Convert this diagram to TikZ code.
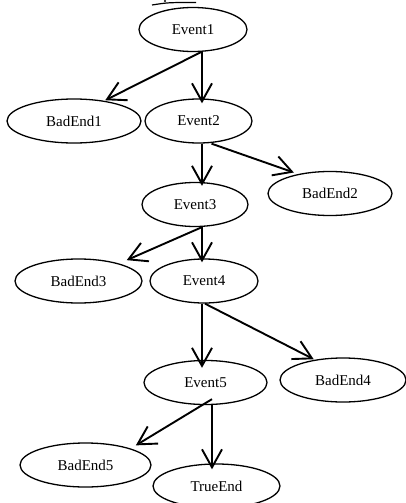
\documentclass[tikz,border=0pt]{standalone}
\usepackage{fontspec}
\setmainfont{Liberation Serif}
\usetikzlibrary{shapes.geometric,arrows.meta}
\pgfdeclarearrow{
  name = OpenVee,
  parameters = {\the\pgfarrowlength,\the\pgfarrowwidth},
  setup code = {
    \pgfarrowssettipend{0pt}
    \pgfarrowssetlineend{-0.6\pgflinewidth}
    \pgfarrowssetbackend{-\pgfarrowlength}
    \pgfarrowssavethe\pgfarrowlength
    \pgfarrowssavethe\pgfarrowwidth
  },
  drawing code = {
    \pgfsetdash{}{0pt}
    \pgfsetmiterjoin
    \pgfsetbuttcap
    \pgfpathmoveto{\pgfqpoint{-\pgfarrowlength}{0.5\pgfarrowwidth}}
    \pgfpathlineto{\pgfpointorigin}
    \pgfpathlineto{\pgfqpoint{-\pgfarrowlength}{-0.5\pgfarrowwidth}}
    \pgfusepathqstroke
  },
  defaults = {length=16pt, width=20pt}
}
\begin{document}
\begin{tikzpicture}[x=1pt,y=-1pt,
  ev/.style={ellipse,draw,line width=1.3pt,inner sep=0pt,minimum height=44pt,font=\fontsize{15}{15}\selectfont},
  arr/.style={line width=1.9pt,-{OpenVee[length=18pt,width=20pt]}}]
\useasboundingbox (0,0) rectangle (406,503);
\node[ev,minimum width=108pt] (e1) at (193,29.5) {Event1};
\node[ev,minimum width=134pt] (b1) at (74,121) {BadEnd1};
\node[ev,minimum width=107pt] (e2) at (198.5,121) {Event2};
\node[ev,minimum width=124pt] (b2) at (330,193.5) {BadEnd2};
\node[ev,minimum width=106pt] (e3) at (195,204.5) {Event3};
\node[ev,minimum width=127pt] (b3) at (78.5,281) {BadEnd3};
\node[ev,minimum width=108pt] (e4) at (204,281) {Event4};
\node[ev,minimum width=123pt] (e5) at (205.5,382.5) {Event5};
\node[ev,minimum width=126pt] (b4) at (343,380) {BadEnd4};
\node[ev,minimum width=131pt] (b5) at (85.5,465) {BadEnd5};
\node[ev,minimum width=127pt] (te) at (216.5,486) {TrueEnd};
\coordinate (c1) at (152,5);
\coordinate (c2) at (196,2.5);
\draw[line width=1.2pt] (c1) .. controls (168,2.5) .. (c2);
\fill (165,1) circle (1.2pt);
% connectors
\draw[arr] ([xshift=8pt]e1.south) -- ([xshift=33pt,yshift=-1pt]b1.north);
\draw[arr] ([xshift=9pt]e1.south) -- ([xshift=3.5pt,yshift=-3pt]e2.north);
\draw[arr] ([xshift=3.5pt]e2.south) -- ([xshift=7pt,yshift=-2pt]e3.north);
\draw[arr] ([xshift=13pt]e2.south) -- ([xshift=-38pt,yshift=-1pt]b2.north);
\draw[arr] ([xshift=7pt]e3.south) -- ([xshift=50pt,yshift=-1pt]b3.north);
\draw[arr] ([xshift=7pt]e3.south) -- ([xshift=-2pt,yshift=-2pt]e4.north);
\draw[arr] ([xshift=-2pt]e4.south) -- ([xshift=-3.5pt,yshift=-6pt]e5.north);
\draw[arr] ([xshift=1pt]e4.south) -- ([xshift=-31pt,yshift=-1pt]b4.north);
\draw[arr] ([xshift=6.5pt,yshift=6pt]e5.south) -- ([xshift=52pt,yshift=-2pt]b5.north);
\draw[arr] ([xshift=6.5pt]e5.south) -- ([xshift=-4.5pt,yshift=-4pt]te.north);
\end{tikzpicture}
\end{document}
